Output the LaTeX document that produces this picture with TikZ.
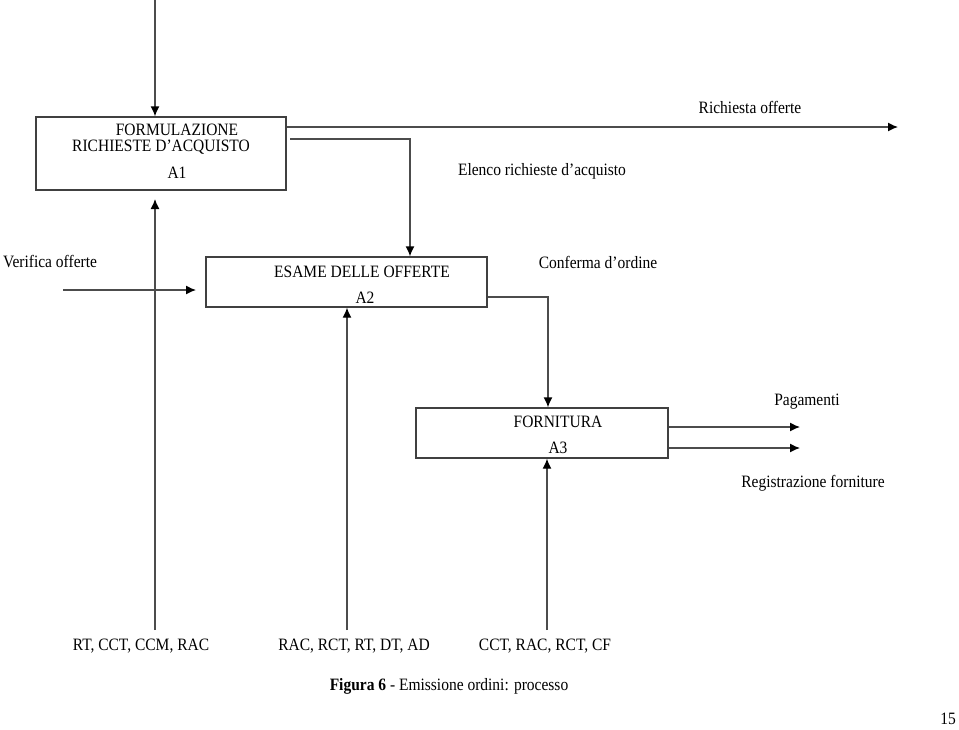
\documentclass[tikz,border=0pt]{standalone}
\usepackage{fontspec}
\setmainfont{Liberation Serif}
\usetikzlibrary{arrows.meta}
\newcommand{\tall}[1]{\scalebox{1}[1.12]{#1}}
\begin{document}
\begin{tikzpicture}[x=1pt,y=-1pt,
  box/.style={draw=black!75,line width=1.3pt,rectangle,minimum width=#1,inner sep=0pt},
  lbl/.style={font=\fontsize{15.5}{18}\selectfont,inner sep=0pt,text=black},
  flow/.style={draw=black!70,line width=1.3pt,-{Latex[length=10pt,width=9pt,color=black]}}]
\useasboundingbox (0,0) rectangle (959,729);
% boxes
\node[box=250pt,minimum height=73pt] (A1) at (161,153.5) {};
\node[box=281pt,minimum height=50pt] (A2) at (346.5,282) {};
\node[box=252pt,minimum height=50pt] (A3) at (542,433) {};
% box texts
\node[lbl] (t1a) at (177,129.5) {\tall{FORMULAZIONE}};
\node[lbl] (t1b) at (161,147.5) {\tall{RICHIESTE D’ACQUISTO}};
\node[lbl] (t1c) at (177,173) {\tall{A1}};
\node[lbl] (t2a) at (362,272) {\tall{ESAME DELLE OFFERTE}};
\node[lbl] (t2b) at (365,298) {\tall{A2}};
\node[lbl] (t3a) at (558,422) {\tall{FORNITURA}};
\node[lbl] (t3b) at (558,448) {\tall{A3}};
% labels
\node[lbl] (lro) at (750,107) {\tall{Richiesta offerte}};
\node[lbl] (ler) at (542,171) {\tall{Elenco richieste d’acquisto}};
\node[lbl] (lvo) at (50,262) {\tall{Verifica offerte}};
\node[lbl] (lco) at (598,262) {\tall{Conferma d’ordine}};
\node[lbl] (lpa) at (807,402) {\tall{Pagamenti}};
\node[lbl] (lrf) at (813,483) {\tall{Registrazione forniture}};
\node[lbl] (m1) at (141,646) {\tall{RT, CCT, CCM, RAC}};
\node[lbl] (m2) at (354,646) {\tall{RAC, RCT, RT, DT, AD}};
\node[lbl] (m3) at (545,646) {\tall{CCT, RAC, RCT, CF}};
\node[lbl] (cap) at (449,686) {\tall{\textbf{Figura 6} - Emissione ordini: processo}};
\node[lbl] (pg) at (948,719) {\tall{15}};
% coordinates
\coordinate (c0) at (155,0);
\coordinate (c1) at (898,127);
\coordinate (c2) at (290,139);
\coordinate (c3) at (410,139);
\coordinate (c4) at (155,630);
\coordinate (c5) at (63,290);
\coordinate (c6) at (548,297);
\coordinate (c7) at (347,630);
\coordinate (c8) at (547,630);
\coordinate (c9) at (800,427);
\coordinate (c10) at (800,448);
% connectors
\draw[flow] (c0) -- (c0 |- A1.north);
\draw[flow] (A1.east |- c1) -- (c1);
\draw[flow] (c2) -- (c3) -- (c3 |- A2.north);
\draw[flow] (c4) -- (155,199);
\draw[flow] (c5) -- (196,290);
\draw[flow] (A2.east |- c6) -- (c6) -- (c6 |- A3.north);
\draw[flow] (c7) -- (c7 |- A2.south);
\draw[flow] (c8) -- (c8 |- A3.south);
\draw[flow] (A3.east |- c9) -- (c9);
\draw[flow] (A3.east |- c10) -- (c10);
\end{tikzpicture}
\end{document}
